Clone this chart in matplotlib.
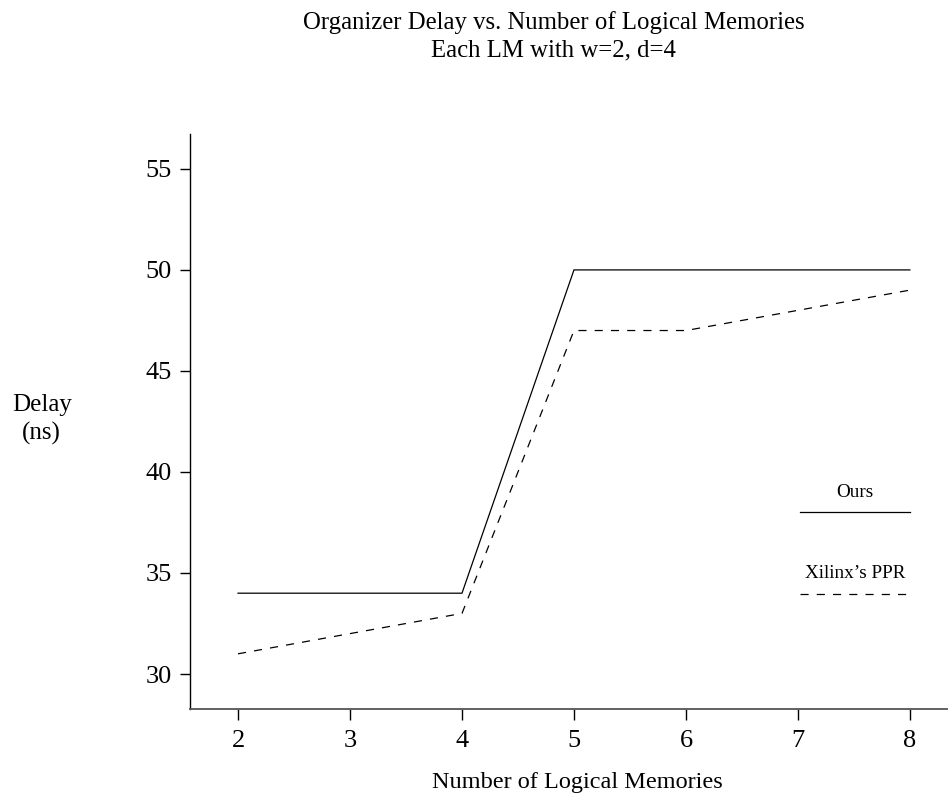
import matplotlib.pyplot as plt

plt.rcParams['font.family'] = ['Liberation Serif', 'DejaVu Serif']

# data
lms = [2, 3, 4, 5, 6, 7, 8]
ours = [34, 34, 34, 50, 50, 50, 50]
xilinx = [31, 32, 33, 47, 47, 48, 49]
yticks = [30, 35, 40, 45, 50, 55]

fig = plt.figure(figsize=(9.48, 8.02), dpi=100)
ax = fig.add_axes([0.2004, 0.116, 0.7996, 0.717])

ax.plot(lms, ours, color='black', lw=0.9)
ax.plot(lms, xilinx, color='black', lw=0.9, dashes=(6.5, 6.5))

ax.set_xlim(1.571, 8.34)
ax.set_ylim(28.27, 56.73)
ax.set_xticks(lms)
ax.set_yticks(yticks)
ax.tick_params(labelsize=19, length=7, width=1)
ax.tick_params(axis='x', pad=7.5, length=8)
ax.tick_params(axis='y', pad=6)
for s in ['top', 'right']:
    ax.spines[s].set_visible(False)
ax.spines['left'].set_linewidth(1)
ax.spines['bottom'].set_linewidth(1.3)
ax.spines['bottom'].set_color('#555555')

# legend drawn inside the axes: label above each sample line
ax.plot([0.805, 0.95], [0.343, 0.343], color='black', lw=0.9, transform=ax.transAxes)
ax.plot([0.805, 0.95], [0.2, 0.2], color='black', lw=0.9, dashes=(6.5, 6.5),
        transform=ax.transAxes)
ax.text(0.877, 0.377, "Ours", transform=ax.transAxes, ha='center', va='center', fontsize=13.8)
ax.text(0.877, 0.236, "Xilinx\u2019s PPR", transform=ax.transAxes, ha='center', va='center',
        fontsize=13.8)

fig.text(0.584, 0.955, "Organizer Delay vs. Number of Logical Memories\nEach LM with w=2, d=4",
         ha='center', va='center', fontsize=17.8, linespacing=1.3)
fig.text(0.609, 0.024, "Number of Logical Memories", ha='center', va='center', fontsize=17.5)
fig.text(0.044, 0.477, "Delay\n(ns)", ha='center', va='center', fontsize=18, linespacing=1.3)

plt.savefig("out.png", dpi=100)
